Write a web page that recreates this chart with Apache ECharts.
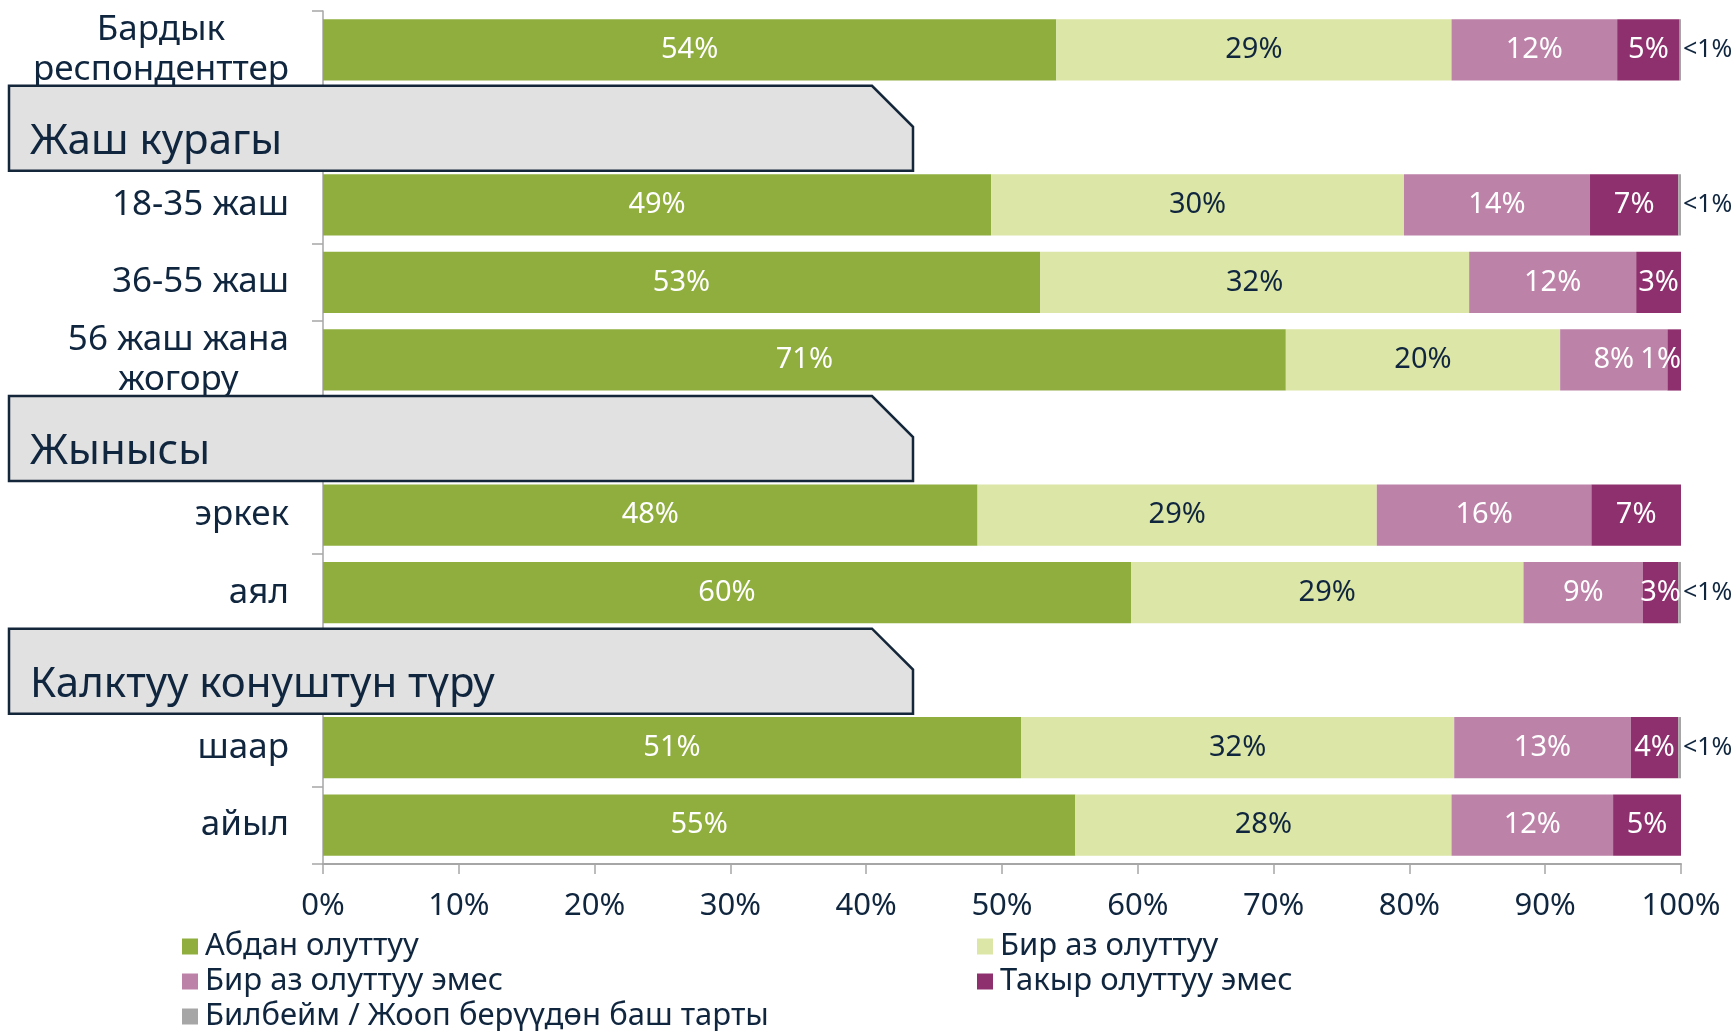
<!DOCTYPE html>
<html>
<head>
<meta charset="utf-8">
<script src="https://cdn.jsdelivr.net/npm/echarts@6/dist/echarts.min.js"></script>
<style>
  html, body { margin: 0; padding: 0; background: #fff; }
  #chart { width: 1731px; height: 1031px; }
</style>
</head>
<body>
<div id="chart"></div>
<script>
// rows of the chart, group headers sit in their own empty rows
const categories = [
  'Бардык\nреспонденттер',
  'Жаш курагы',
  '18-35 жаш',
  '36-55 жаш',
  '56 жаш жана\nжогору',
  'Жынысы',
  'эркек',
  'аял',
  'Калктуу конуштун түру',
  'шаар',
  'айыл'
]
const headers = ['Жаш курагы', 'Жынысы', 'Калктуу конуштун түру']

const seriesNames = [
  'Абдан олуттуу',
  'Бир аз олуттуу',
  'Бир аз олуттуу эмес',
  'Такыр олуттуу эмес',
  'Билбейм / Жооп берүүдөн баш тарты'
]

// percentages (null = header row / no value)
const veryImportant     = [54.0, null, 49.2, 52.8, 70.9, null, 48.2, 59.5, null, 51.4, 55.4]
const somewhatImportant = [29.1, null, 30.4, 31.6, 20.2, null, 29.4, 28.9, null, 31.9, 27.7]
const somewhatNot       = [12.2, null, 13.7, 12.3,  7.9, null, 15.8,  8.8, null, 13.0, 11.9]
const notAtAll          = [ 4.6, null,  6.5,  3.3,  1.0, null,  6.6,  2.6, null,  3.5,  5.0]
const dontKnow          = [ 0.1, null,  0.2, null, null, null, null,  0.2, null,  0.2, null]

const colors = ['#8fae3e', '#dce6a6', '#bc82a8', '#8f306e', '#a6a6a6']
const navy = '#10263f'
const font = 'Noto Sans'

const chart = echarts.init(document.getElementById('chart'))

function pctLabel(p) {
  const v = p.value
  if (v == null) return ''
  return v < 1 ? '<1%' : Math.round(v) + '%'
}

function barSeries(name, data, idx) {
  const isGray = idx === 4
  return {
    name: name,
    type: 'bar',
    stack: 'total',
    // very thin segments get their label pushed inside the bar end
    data: data.map(v => (!isGray && v != null && v < 2)
      ? { value: v, label: { position: 'insideRight', distance: 0 } }
      : v),
    barCategoryGap: '21%',
    itemStyle: { color: colors[idx] },
    label: {
      show: true,
      position: isGray ? 'right' : 'inside',
      distance: 2,
      formatter: pctLabel,
      fontFamily: font,
      fontSize: isGray ? 25 : 29,
      color: (idx === 1 || isGray) ? navy : '#ffffff'
    }
  }
}

const legendBase = {
  orient: 'vertical',
  top: 931,
  height: 110,
  padding: 0,
  itemGap: 4,
  itemWidth: 16,
  itemHeight: 16,
  icon: 'rect',
  textStyle: { fontFamily: font, fontSize: 31, lineHeight: 30, color: navy, padding: [0, 0, 0, 2] }
}

const option = {
  animation: false,
  textStyle: { fontFamily: font },
  grid: { left: 323, right: 50, top: 11, bottom: 167, containLabel: false },
  legend: [
    Object.assign({}, legendBase, { left: 182, data: [seriesNames[0], seriesNames[2], seriesNames[4]] }),
    Object.assign({}, legendBase, { left: 977, data: [seriesNames[1], seriesNames[3]] })
  ],
  xAxis: {
    type: 'value',
    min: 0,
    max: 100,
    interval: 10,
    axisLine: { show: true, lineStyle: { color: '#a6a6a6', width: 2 } },
    axisTick: { show: true, length: 10, lineStyle: { color: '#a6a6a6', width: 1.5 } },
    splitLine: { show: false },
    axisLabel: {
      formatter: '{value}%',
      fontFamily: font,
      fontSize: 31,
      color: navy,
      margin: 27
    }
  },
  yAxis: {
    type: 'category',
    inverse: true,
    data: categories,
    axisLine: { show: true, lineStyle: { color: '#a6a6a6', width: 1.5 } },
    axisTick: { show: true, length: 11, lineStyle: { color: '#a6a6a6', width: 1.5 } },
    axisLabel: {
      margin: 34,
      formatter: function (v) {
        if (headers.indexOf(v) >= 0) return ''
        return v.split('\n').map(s => '{c|' + s + '}').join('\n')
      },
      rich: {
        c: { align: 'center', fontFamily: font, fontSize: 35, lineHeight: 40, color: navy }
      }
    }
  },
  series: [
    barSeries(seriesNames[0], veryImportant, 0),
    barSeries(seriesNames[1], somewhatImportant, 1),
    barSeries(seriesNames[2], somewhatNot, 2),
    barSeries(seriesNames[3], notAtAll, 3),
    barSeries(seriesNames[4], dontKnow, 4)
  ]
}

chart.setOption(option)

// grey header boxes with a cut top-right corner, placed on the header rows
const band = chart.convertToPixel({ yAxisIndex: 0 }, 1) - chart.convertToPixel({ yAxisIndex: 0 }, 0)
const boxLeft = 9
const boxRight = 913
const cut = 41
const headerGraphics = []
headers.forEach(function (h) {
  const cy = chart.convertToPixel({ yAxisIndex: 0 }, h) + 1
  const top = cy - band * 0.548
  const bottom = cy + band * 0.548
  headerGraphics.push({
    type: 'polygon',
    z: 100,
    shape: {
      points: [[boxLeft, top], [boxRight - cut, top], [boxRight, top + cut], [boxRight, bottom], [boxLeft, bottom]]
    },
    style: { fill: '#e1e1e1', stroke: '#14263a', lineWidth: 2.5 }
  })
  headerGraphics.push({
    type: 'text',
    z: 101,
    x: 30,
    y: cy + 14,
    style: {
      text: h,
      fontFamily: font,
      fontSize: 42,
      fill: navy,
      verticalAlign: 'middle'
    }
  })
})
chart.setOption({ graphic: headerGraphics })
</script>
</body>
</html>
